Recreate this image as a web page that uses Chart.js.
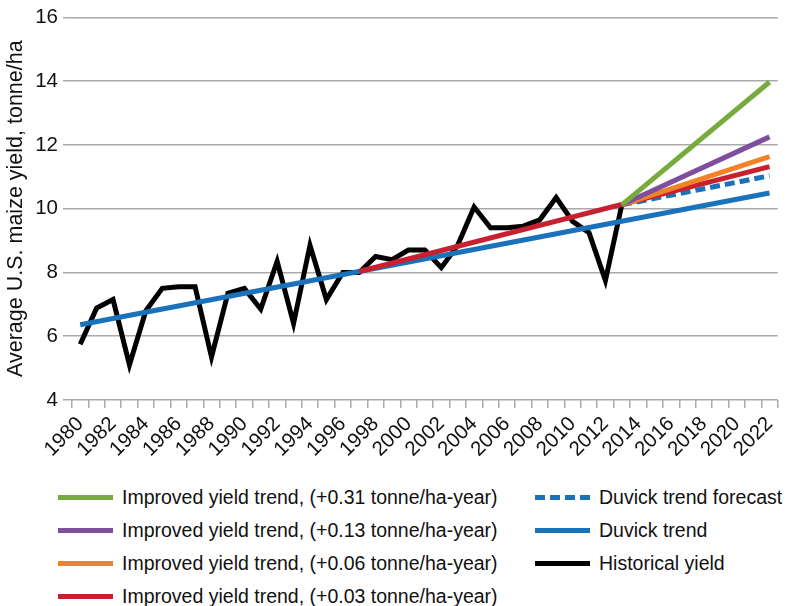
<!DOCTYPE html>
<html>
<head>
<meta charset="utf-8">
<script src="https://cdn.jsdelivr.net/npm/chart.js@4.4.1/dist/chart.umd.min.js"></script>
<style>
  html, body { margin: 0; padding: 0; background: #fff; }
  #wrap { position: relative; width: 791px; height: 606px; overflow: hidden;
          font-family: "Liberation Sans", Arial, Helvetica, sans-serif; }
  #chartBox { position: absolute; left: 0; top: 0; width: 791px; height: 470px; }
  .item { position: absolute; height: 26px; display: flex; align-items: center;
          font-size: 19.5px; color: #111; white-space: nowrap; }
  .swatch { width: 55px; height: 5px; margin-right: 9px; flex: none; }
</style>
</head>
<body>
<div id="wrap">
  <div id="chartBox"><canvas id="myChart" width="791" height="470"></canvas></div>
  <div id="legend"></div>
</div>
<script>
// categories (every year on the axis, every other one labelled)
const years = ['1980', '1981', '1982', '1983', '1984', '1985', '1986', '1987', '1988', '1989',
               '1990', '1991', '1992', '1993', '1994', '1995', '1996', '1997', '1998', '1999',
               '2000', '2001', '2002', '2003', '2004', '2005', '2006', '2007', '2008', '2009',
               '2010', '2011', '2012', '2013', '2014', '2015', '2016', '2017', '2018', '2019',
               '2020', '2021', '2022'];

// historical yield 1980-2013, tonne/ha
const historicalYield = [5.75, 6.88, 7.15, 5.1, 6.8, 7.5, 7.55, 7.55, 5.35, 7.35,
                         7.5, 6.85, 8.35, 6.4, 8.85, 7.15, 8.0, 8.0, 8.5, 8.4,
                         8.7, 8.7, 8.15, 8.85, 10.05, 9.4, 9.4, 9.45, 9.65, 10.35,
                         9.6, 9.25, 7.75, 10.12];

// trend lines: start and end years with their values
const duvickYears = ['1980', '2022'];
const duvickTrend = [6.36, 10.49];
const forecastYears = ['2013', '2022'];
const duvickForecast = [10.12, 11.03];
const improved003Years = ['1997', '2022'];
const improved003 = [8.03, 11.32];
const improved006 = [10.12, 11.63];
const improved013 = [10.12, 12.25];
const improved031 = [10.12, 13.97];

const yTicks = [4, 6, 8, 10, 12, 14, 16];

const pts = (xs, ys) => xs.map((x, i) => ({ x: x, y: ys[i] }));

const font = "'Liberation Sans', Arial, Helvetica, sans-serif";

function line(label, data, color, extra) {
    return Object.assign({
        label: label,
        data: data,
        borderColor: color,
        backgroundColor: color,
        borderWidth: 5,
        pointRadius: 0,
        tension: 0,
        fill: false,
        borderCapStyle: 'butt',
        borderJoinStyle: 'miter'
    }, extra || {});
}

const ctx = document.getElementById('myChart');
const chart = new Chart(ctx, {
    type: 'line',
    data: {
        labels: years,
        datasets: [
            line('Improved yield trend, (+0.31 tonne/ha-year)', pts(forecastYears, improved031), '#77ab3d'),
            line('Improved yield trend, (+0.13 tonne/ha-year)', pts(forecastYears, improved013), '#7d4f9e'),
            line('Improved yield trend, (+0.06 tonne/ha-year)', pts(forecastYears, improved006), '#f28228'),
            line('Improved yield trend, (+0.03 tonne/ha-year)', pts(improved003Years, improved003), '#c8202f'),
            line('Duvick trend forecast', pts(forecastYears, duvickForecast), '#1a72bb', { borderDash: [10, 5] }),
            line('Duvick trend', pts(duvickYears, duvickTrend), '#1a72bb'),
            line('Historical yield', historicalYield, '#000000')
        ]
    },
    options: {
        responsive: false,
        animation: false,
        layout: { padding: { top: 15, right: 6, left: 0, bottom: 0 } },
        plugins: {
            legend: { display: false },
            tooltip: { enabled: false }
        },
        scales: {
            x: {
                offset: true,
                border: { display: false },
                grid: {
                    offset: true,
                    drawOnChartArea: false,
                    drawTicks: true,
                    tickLength: 8,
                    color: '#aaaaaa',
                    lineWidth: 1.5
                },
                ticks: {
                    autoSkip: false,
                    maxRotation: 45,
                    minRotation: 45,
                    padding: 4,
                    color: '#111',
                    font: { family: font, size: 20.5 },
                    callback: function (value, index) {
                        return index % 2 === 0 ? years[index] : '';
                    }
                },
                afterFit: function (scale) { scale.height = 70; }
            },
            y: {
                min: yTicks[0],
                max: yTicks[yTicks.length - 1],
                border: { display: false },
                grid: {
                    color: '#aaaaaa',
                    lineWidth: 1.5,
                    drawTicks: true,
                    tickLength: 9
                },
                ticks: {
                    padding: 5,
                    color: '#111',
                    font: { family: font, size: 20.5 }
                },
                afterBuildTicks: function (scale) {
                    scale.ticks = yTicks.map(v => ({ value: v }));
                },
                afterFit: function (scale) { scale.width = 72; },
                title: {
                    display: true,
                    text: 'Average U.S. maize yield, tonne/ha',
                    color: '#111',
                    font: { family: font, size: 21.5 },
                    padding: { top: 3, bottom: 0 }
                }
            }
        }
    }
});

// two-column legend below the chart
const legend = document.getElementById('legend');
chart.data.datasets.forEach((ds, i) => {
    const left = i < 4;
    const row = left ? i : i - 4;
    const item = document.createElement('div');
    item.className = 'item';
    item.style.left = (left ? 58 : 535) + 'px';
    item.style.top = (484 + row * 33) + 'px';
    const sw = document.createElement('div');
    sw.className = 'swatch';
    if (ds.borderDash) {
        sw.style.background = 'repeating-linear-gradient(90deg, ' + ds.borderColor + ' 0 10px, transparent 10px 15px)';
    } else {
        sw.style.background = ds.borderColor;
    }
    const txt = document.createElement('span');
    txt.textContent = ds.label;
    item.appendChild(sw);
    item.appendChild(txt);
    legend.appendChild(item);
});
</script>
</body>
</html>
